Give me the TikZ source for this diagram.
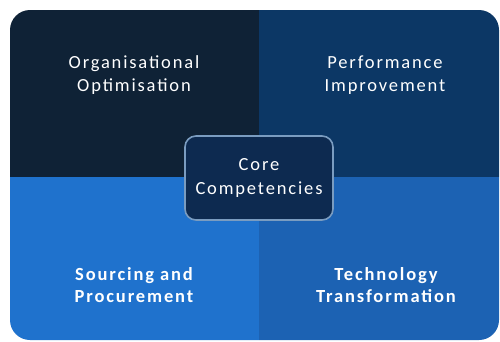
\documentclass[tikz,border=0pt]{standalone}
\usepackage{fontspec}
\usepackage{tikz}
\setmainfont{Carlito}[LetterSpace=10]
\definecolor{quadTL}{HTML}{0F2236}
\definecolor{quadTR}{HTML}{0C3765}
\definecolor{quadBL}{HTML}{1F72CD}
\definecolor{quadBR}{HTML}{1C62B3}
\definecolor{coreFill}{HTML}{0D2A50}
\definecolor{coreRim}{HTML}{7A9CC0}
\tikzset{
quadtext/.style={
 text=white,
 align=center,
 font=\fontsize{18.5}{22.5}\selectfont
 },
quadbold/.style={
 quadtext,
 font=\fontsize{18.5}{22.5}\selectfont\bfseries
 },
corebox/.style={
 draw=coreRim,
 fill=coreFill,
 line width=1.6pt,
 rounded corners=11pt,
 minimum width=148pt,
 minimum height=84pt,
 text=white,
 align=center,
 font=\fontsize{18.5}{23.5}\selectfont
 }
}

\begin{document}
\begin{tikzpicture}[x=1pt,y=-1pt]
\useasboundingbox (0,0) rectangle (500,341);
\fill[white] (0,0) rectangle (500,341);
% four quadrants inside the rounded frame
\begin{scope}
\clip[rounded corners=20pt] (10,10) rectangle (499,340);
\fill[quadTL] (0,0) rectangle (259,177);
\fill[quadTR] (259,0) rectangle (500,177);
\fill[quadBL] (0,177) rectangle (259,341);
\fill[quadBR] (259,177) rectangle (500,341);
\end{scope}
\node[quadtext] (orgopt) at (134,75) {Organisational\\Optimisation};
\node[quadtext] (perfimp) at (385,75) {Performance\\Improvement};
\node[quadbold] (sourcing) at (134,285) {Sourcing and\\Procurement};
\node[quadbold] (techtrans) at (386,285) {Technology\\Transformation};
\node[corebox] (core) at (259,178) {Core\\Competencies};
\end{tikzpicture}
\end{document}
